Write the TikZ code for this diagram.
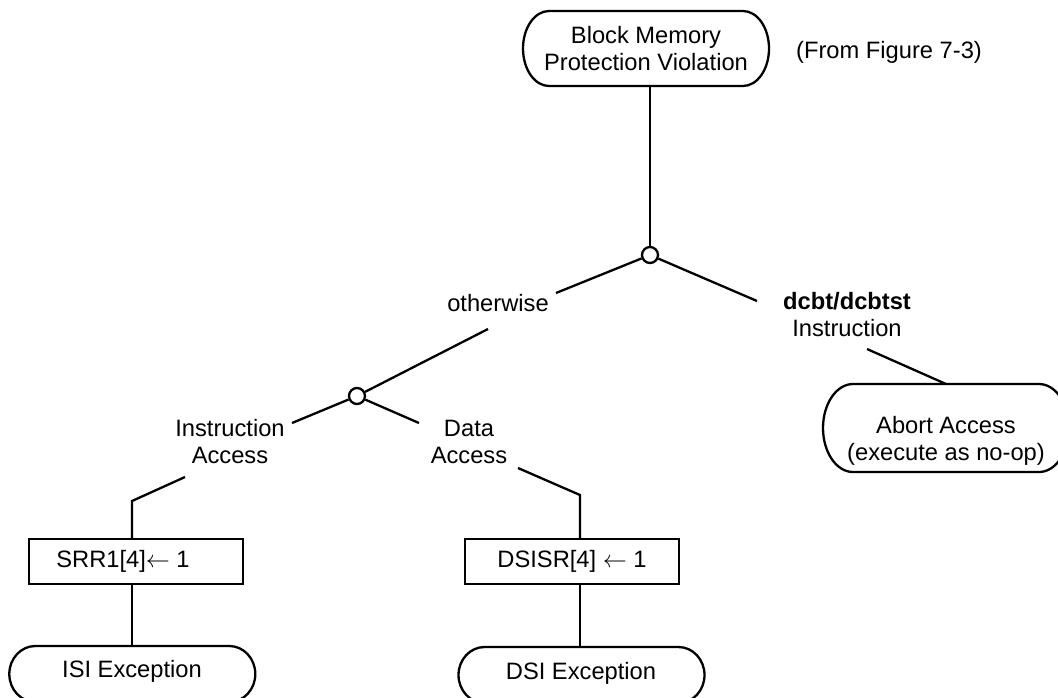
\documentclass[tikz,border=0pt]{standalone}
\usepackage{fontspec}
\setmainfont{Liberation Sans}
\newcommand\capsuleline[3]{%
  \draw ([xshift=#2]#1.north west) -- ([xshift=-#2]#1.north east)
    arc[start angle=90,end angle=-90,x radius=#2,y radius=#3]
    -- ([xshift=#2]#1.south west)
    arc[start angle=270,end angle=90,x radius=#2,y radius=#3] -- cycle;}
\begin{document}
\begin{tikzpicture}[x=0.5pt,y=-0.5pt,line width=1.15pt,
  txt/.style={font=\fontsize{11.85pt}{13.5pt}\selectfont, align=center, inner sep=0pt},
  capsule/.style={rectangle, draw=none, inner sep=0pt, outer sep=0pt, minimum width=123pt},
  regbox/.style={rectangle, draw, inner sep=0pt, outer sep=0pt, minimum width=107pt,
    minimum height=22.5pt, font=\fontsize{11.85pt}{13.5pt}\selectfont},
  junction/.style={circle, draw, fill=white, inner sep=0pt, minimum size=8pt}]
\useasboundingbox (0,0) rectangle (1058,697);
\clip (0,0) rectangle (1058,697);

% top
\node[capsule, minimum height=37.5pt] (top) at (646,48.5) {};
\capsuleline{top}{13pt}{18.75pt}
\node[txt] (toptxt) at (646,49) {Block Memory\\Protection Violation};
\node[txt] (from) at (889,52) {(From Figure 7-3)};

\node[junction] (j1) at (650,255) {};
\draw (top.south -| j1) -- (j1);

% otherwise branch
\coordinate (o1) at (556,293);
\coordinate (o2) at (488,329);
\node[txt] (otherwise) at (498,303) {otherwise};
\node[junction] (j2) at (357,396) {};
\draw (j1) -- (o1);
\draw (o2) -- (j2);

% dcbt branch
\coordinate (r1) at (757,301);
\coordinate (r2) at (867,349);
\node[txt] (dcbt) at (847,315) {\textbf{dcbt/dcbtst}\\Instruction};
\node[capsule, minimum height=44pt] (abort) at (946,428) {};
\capsuleline{abort}{15pt}{22pt}
\node[txt] (aborttxt) at (946,441) {Abort Access\\(execute as no-op)};
\draw (j1) -- (r1);
\draw (r2) -- (abort.north);

% instruction access
\coordinate (i1) at (292,423);
\coordinate (i2) at (185,477);
\coordinate (ic) at (132,501);
\node[txt] (instr) at (230,441.5) {Instruction\\Access};
\node[regbox] (srr) at (136,561.5) {\hspace*{-13pt}SRR1[4]$\leftarrow$ 1};
\draw (j2) -- (i1);
\draw (i2) -- (ic) -- (srr.north -| ic);
\node[capsule, minimum height=28pt] (isi) at (132.3,674) {};
\capsuleline{isi}{13pt}{14pt}
\node[txt] (isitxt) at (132,671) {ISI Exception};
\draw (srr.south -| ic) -- (isi.north -| ic);

% data access
\coordinate (d1) at (419,423);
\coordinate (d2) at (518,468);
\coordinate (dc) at (580,495);
\node[txt] (data) at (469,441.5) {Data\\Access};
\node[regbox] (dsisr) at (572,561.5) {DSISR[4] $\leftarrow$ 1};
\draw (j2) -- (d1);
\draw (d2) -- (dc) -- (dsisr.north -| dc);
\node[capsule, minimum height=28pt] (dsi) at (581.5,675) {};
\capsuleline{dsi}{13pt}{14pt}
\node[txt] (dsitxt) at (581,673) {DSI Exception};
\draw (dsisr.south -| dc) -- (dsi.north -| dc);
\end{tikzpicture}
\end{document}
